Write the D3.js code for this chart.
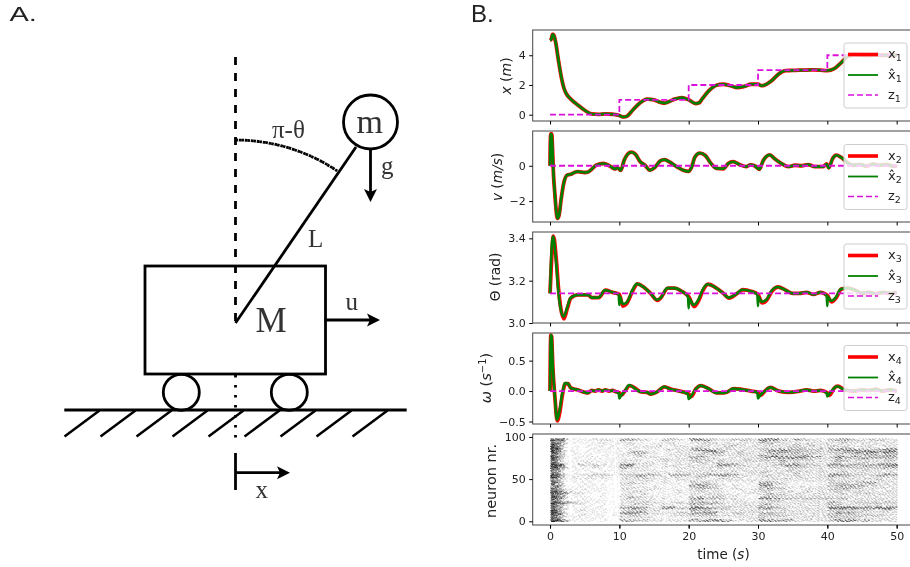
<!DOCTYPE html>
<html>
<head>
<meta charset="utf-8">
<script src="https://cdnjs.cloudflare.com/ajax/libs/d3/7.8.5/d3.min.js"></script>
<style>
  html, body { margin: 0; padding: 0; background: #fff; overflow: hidden; }
  svg { display: block; filter: blur(0.35px); }
  text { font-family: "DejaVu Sans", sans-serif; fill: #222; }
  .serif { font-family: "Liberation Serif", serif; fill: #333; }
  .domain { display: none; }
</style>
</head>
<body>
<svg id="fig" width="910" height="567"></svg>
<script>
var width = 910, height = 567;

// values
var t1 = [0,0.2,0.35,0.5,0.8,1.2,1.6,2,2.3,3,4,5,6,7,8,9,10,10.5,11,12,13,14,15,16,16.5,17,18,19,20,21,21.5,22,23,24,25,26,27,28,29,30,30.5,31,32,33,34,35,36,37,38,39,40,41,42,43,44,45,46,47,48,49,50];
var x1 = [5.0,5.1,5.4,5.4,4.9,3.7,2.6,1.8,1.45,1.05,0.65,0.3,0.05,0.02,0.06,0.03,-0.05,-0.15,-0.12,0.35,0.8,1.05,1.0,0.82,0.78,0.85,1.05,1.15,1.0,0.75,0.8,1.1,1.65,1.98,2.05,1.95,1.82,1.9,2.05,2.05,1.95,2.0,2.3,2.75,2.97,2.98,3.0,3.0,3.02,3.0,2.97,3.1,3.5,3.95,4.05,4.0,4.0,4.02,4.0,4.0,4.0];
var xHat1 = x1;
var zT = [0,10,20,30,40,50];
var z1 = [0,1,2,3,4,4];

var t2 = [0,0.03,0.1,0.25,0.35,0.5,0.7,0.9,1.06,1.3,1.6,2,2.5,3,3.5,4,5,5.5,6,6.7,7.7,8.65,9.4,9.7,10.2,10.7,11.7,12.3,13,13.7,14.4,15.1,15.9,16.5,17.3,18.3,19.2,20,20.4,20.9,21.6,22.4,23.1,24,25,25.7,26.4,27.4,28.3,28.9,29.5,30.2,30.75,31.7,32.4,33.4,34.4,35.3,36.3,37.2,38.2,39.4,39.9,40.2,40.75,41.3,42,43,43.7,44.7,45.6,46.6,47.5,48.5,49.5,50];
var x2 = [0,1.0,1.8,1.8,1.0,-0.5,-1.6,-2.6,-2.98,-2.8,-1.9,-0.95,-0.52,-0.48,-0.38,-0.33,-0.38,-0.35,-0.2,0.05,0.13,-0.02,-0.18,-0.1,-0.26,0.32,0.77,0.66,0.23,0.03,-0.25,-0.1,0.28,0.35,0.2,-0.06,-0.25,-0.32,-0.1,0.5,0.72,0.58,0.19,-0.15,-0.17,0.13,0.23,0.05,-0.05,0.05,0,-0.2,0.3,0.62,0.4,0.12,-0.05,0.03,0,0.07,-0.05,-0.05,0.1,-0.12,0.4,0.6,0.47,0.15,0.03,0.07,-0.02,0.09,0.02,0.07,-0.02,0];
var xHat2 = x2;
var z2 = [0,0,0,0,0,0];

var t3 = [0,0.15,0.48,0.9,1.2,1.5,2,2.5,3,4,5.5,6,7,8,9,10,10.5,11,12,12.6,13.5,14.5,15.5,16,17,18,19,20,20.8,21.5,22,22.8,24,25,25.8,27,27.8,29,30,30.6,31.3,32,32.9,34,35,36,37,38,39,40,40.6,41.3,42,43,44,45,46,47,48,49,50];
var x3 = [3.14,3.25,3.41,3.3,3.17,3.08,3.02,3.07,3.118,3.133,3.133,3.12,3.12,3.155,3.145,3.135,3.08,3.09,3.157,3.185,3.17,3.14,3.107,3.12,3.165,3.165,3.15,3.125,3.078,3.11,3.15,3.183,3.165,3.14,3.118,3.14,3.157,3.15,3.135,3.095,3.11,3.15,3.17,3.155,3.14,3.14,3.145,3.135,3.145,3.13,3.1,3.12,3.16,3.165,3.155,3.14,3.145,3.138,3.145,3.14,3.145];
var tHat3 = [0,0.1,0.42,0.85,1.15,1.45,1.95,2.45,2.95,4,5.5,6,7,7.9,9,9.9,10,10.05,10.5,11,11.9,12.5,13.5,14.5,15.4,16,16.9,18,19,19.9,20,20.05,20.7,21.4,21.9,22.7,24,25,25.7,27,27.7,29,29.9,30,30.05,30.5,31.2,31.9,32.8,34,35,36,37,38,39,39.9,40,40.05,40.5,41.2,41.9,42.9,44,45,46,47,48,49,50];
var xHat3 = [3.14,3.25,3.41,3.3,3.17,3.08,3.03,3.07,3.118,3.133,3.133,3.12,3.12,3.155,3.145,3.135,3.085,3.125,3.09,3.095,3.157,3.185,3.17,3.14,3.11,3.12,3.165,3.165,3.15,3.125,3.07,3.115,3.085,3.11,3.15,3.183,3.165,3.14,3.12,3.14,3.157,3.15,3.135,3.08,3.125,3.1,3.11,3.15,3.17,3.155,3.14,3.14,3.145,3.135,3.145,3.13,3.08,3.125,3.105,3.12,3.16,3.165,3.155,3.14,3.145,3.138,3.145,3.14,3.145];
var z3 = [3.14,3.14,3.14,3.14,3.14,3.14];

var t4 = [0,0.05,0.12,0.22,0.4,0.7,1.05,1.4,1.8,2.2,2.6,3,4,5,5.5,6,6.5,7,7.5,8,8.5,9,9.5,10,10.3,10.8,11.5,12.5,13,14,14.5,15.5,16.5,17.5,19,20,20.4,21,21.8,23,24,25,25.5,26.5,27.5,28,29,30,30.4,31,31.8,33,34.5,36,37,38,39,40,40.3,41,41.5,42.5,44,45,46,47,48,49,50];
var x4 = [0,0.6,0.92,0.9,0.4,-0.1,-0.49,-0.35,-0.05,0.12,0.12,0.05,0.02,-0.02,-0.03,0.01,0.0,0.02,0.0,0.02,0.0,0.01,-0.01,-0.03,-0.07,0,0.09,0.03,-0.01,-0.02,-0.05,-0.01,0.07,0.03,-0.01,-0.05,-0.09,0.03,0.09,0.03,-0.03,-0.03,-0.02,0.04,0.03,0.02,0,-0.02,-0.07,0,0.06,0,-0.02,0,0.02,0,0.01,-0.03,-0.07,0.05,0.08,0.02,0,0.02,0.01,0.03,0,0.02,0];
var tHat4 = [0,0.05,0.12,0.22,0.4,0.7,1.0,1.35,1.75,2.15,2.6,3,4,5,5.5,6,6.5,7,7.5,8,8.5,9,9.5,9.9,10,10.2,10.8,11.4,12.4,13,14,14.5,15.5,16.4,17.4,19,19.9,20,20.3,21,21.7,23,24,25,25.5,26.4,27.4,28,29,29.9,30,30.3,31,31.7,33,34.5,36,37,38,39,39.9,40,40.2,41,41.4,42.5,44,45,46,47,48,49,50];
var xHat4 = [0,0.6,0.92,0.9,0.4,-0.1,-0.47,-0.33,-0.05,0.13,0.12,0.05,0.02,-0.02,-0.03,0.01,0.0,0.02,0.0,0.02,0.0,0.01,-0.01,-0.03,-0.12,-0.08,0,0.1,0.03,-0.01,-0.02,-0.05,-0.01,0.07,0.03,-0.01,-0.05,-0.13,-0.09,0.03,0.09,0.03,-0.03,-0.03,-0.02,0.04,0.03,0.02,0,-0.02,-0.12,-0.07,0,0.06,0,-0.02,0,0.02,0,0.01,-0.03,-0.09,-0.06,0.05,0.08,0.02,0,0.02,0.01,0.03,0,0.02,0];
var z4 = [0,0,0,0,0,0];

var ticks1 = [0,2,4], ticks2 = [-2,0], ticks3 = [3.0,3.2,3.4], ticks4 = [-0.5,0,0.5], ticks5 = [0,50,100];
var timeTicks = [0,10,20,30,40,50];

// spike raster as darkness per cell: top row is neurons 96-99, columns are
// 6 half-second bins (0-3 s), then 1 s bins for 3-9, 10-19, 20-29, 30-39, 40-49
var rasterNeuron = d3.range(97, -2, -3);
var rasterEdges = d3.range(0, 3, 0.5).concat(d3.range(3, 51));
var rasterRows = [
  "866730 1112221 4432113321 5543223332 5553243221 3443223322",
  "756420 1111211 2211112211 2232121222 4332221222 2232222122",
  "875310 0011111 1211121211 1222223212 2322232322 2222122222",
  "976310 1011111 1122221122 2321232222 2222333222 3232222122",
  "986310 1011111 1211112222 4554322222 3445443332 4555443455",
  "975310 1011111 1344211122 2245422322 2444443332 3344556465",
  "764310 1110111 2232111222 2323322322 4343334322 2323344344",
  "975310 1111011 1122221122 4432112222 3555555442 3544444444",
  "864200 1111111 2221123222 3332322232 3334333322 2432332233",
  "663210 1121111 2122212121 2322322222 2223232222 2322232232",
  "998620 1323211 5622212222 2222554322 2234553332 5544444556",
  "885530 1112111 4322112122 2222322222 2222333222 3333333344",
  "765300 1110111 2122211121 2222222222 2222322222 2222232222",
  "654200 1011101 1211122122 2222122122 3222232222 2232222222",
  "986411 1223321 3344431444 2344554222 2322232222 5543323454",
  "875310 2121210 2233212121 2321222211 2222222222 3232222222",
  "654210 1111110 2222212122 2222222222 2222222222 3222222322",
  "764300 1110000 2322112111 3232111111 4432111111 3332344222",
  "755310 0111100 2211111111 4543212111 5522111112 3444433222",
  "664210 1111100 2222121111 3443212111 3433212222 2344322222",
  "775421 1111100 2222211121 2322211212 3322212222 3332222122",
  "886553 2210100 1222111121 2222211122 2322222222 2322332222",
  "765420 1100100 2212111111 2222322111 2333222222 2222222222",
  "886530 1110100 2432212111 4534322111 5543333333 3332222222",
  "755210 1111100 2222211111 3322212211 2332222222 2222222222",
  "987654 3211100 2233222232 4444322222 3322222222 4322333333",
  "764310 1110100 2222212211 3322222222 3322212222 3322222222",
  "765320 1111101 4554225533 6654332222 5543222222 6666555665",
  "875310 1211100 2333221111 4332222222 2222222222 3333232232",
  "986420 1111101 5554222233 4455223322 4433222222 3544322222",
  "765321 1211101 2332111222 3333222222 3333222222 3333333322",
  "875310 1111100 2222211111 2222111222 3222222222 3333222222",
  "987642 1110100 4433221222 4455542222 5544422222 3555342222"
];

const svg = d3.select('#fig');

svg.append("defs").append("filter")
    .attr("id", "soft")
    .append("feGaussianBlur").attr("stdDeviation", 0.55);

// shared time scale
var axL = 532.7, axR = 914;
var x = d3.scaleLinear().domain([-2.5, 52.5]).range([axL, axR]);

var panels = [
  { top: 30,  bottom: 121, dom: [-0.424, 5.70], ticks: ticks1, fmt: d3.format("d"),
    tx: t1, x: x1, th: t1, xh: xHat1, z: z1, n: "1", zy: 43 },
  { top: 131, bottom: 222, dom: [-3.186, 1.97], ticks: ticks2, fmt: d3.format("d"),
    tx: t2, x: x2, th: t2, xh: xHat2, z: z2, n: "2", zy: 144.5 },
  { top: 232, bottom: 323, dom: [3.0, 3.43], ticks: ticks3, fmt: d3.format(".1f"),
    tx: t3, x: x3, th: tHat3, xh: xHat3, z: z3, n: "3", zy: 244 },
  { top: 333, bottom: 424, dom: [-0.541, 0.954], ticks: ticks4, fmt: d3.format(".1f"),
    tx: t4, x: x4, th: tHat4, xh: xHat4, z: z4, n: "4", zy: 345.5 }
];

panels.forEach(function(p, i){
    var g = svg.append("g");
    var y = d3.scaleLinear().domain(p.dom).range([p.bottom, p.top]);

    var clipId = "clip" + i;
    svg.select("defs").append("clipPath").attr("id", clipId)
        .append("rect").attr("x", axL).attr("y", p.top)
        .attr("width", axR - axL).attr("height", p.bottom - p.top);

    var plot = g.append("g").attr("clip-path", "url(#" + clipId + ")");

    var smooth = d3.line().curve(d3.curveMonotoneX);
    plot.append("path")
        .attr("d", smooth(p.tx.map((d, j) => [x(d), y(p.x[j])])))
        .attr("fill", "none").attr("stroke", "#f00").attr("stroke-width", 3.8);
    plot.append("path")
        .attr("d", smooth(p.th.map((d, j) => [x(d), y(p.xh[j])])))
        .attr("fill", "none").attr("stroke", "#008000").attr("stroke-width", 2.6);

    var stepped = d3.line().curve(d3.curveStepAfter);
    plot.append("path")
        .attr("d", stepped(zT.map((d, j) => [x(d), y(p.z[j])])))
        .attr("fill", "none").attr("stroke", "#dc10dc").attr("stroke-width", 1.8)
        .attr("stroke-dasharray", "6,3");

    drawAxes(g, p, y);
    drawLegend(g, p);
});

function drawAxes(g, p, y){
    g.append("rect")
        .attr("x", axL).attr("y", p.top)
        .attr("width", axR - axL).attr("height", p.bottom - p.top)
        .attr("fill", "none").attr("stroke", "#444").attr("stroke-width", 1);

    var ay = g.append("g")
        .attr("transform", "translate(" + axL + ",0)")
        .call(d3.axisLeft(y).tickValues(p.ticks).tickSize(3.5).tickPadding(3.5)
            .tickFormat(d => p.fmt(d).replace("-", "\u2212")));
    ay.selectAll("text").style("font-size", "11px");

    g.append("g")
        .attr("transform", "translate(0," + p.bottom + ")")
        .call(d3.axisBottom(x).tickValues(timeTicks).tickSize(3.5).tickFormat(""));
}

function drawLegend(g, p){
    var lx = 844, ly = p.zy;
    g.append("rect")
        .attr("x", lx).attr("y", ly).attr("width", 63).attr("height", 65).attr("rx", 2.5)
        .attr("fill", "#fff").attr("fill-opacity", 0.8)
        .attr("stroke", "#ccc").attr("stroke-width", 1);

    var rows = [
      { dy: 11.5, c: "#f00", w: 3.6, dash: null, label: "x" },
      { dy: 32, c: "#008000", w: 1.8, dash: null, label: "x\u0302" },
      { dy: 52, c: "#dc10dc", w: 1.7, dash: "6,3", label: "z" }
    ];
    rows.forEach(function(r){
        g.append("line")
            .attr("x1", lx + 4).attr("x2", lx + 34)
            .attr("y1", ly + r.dy).attr("y2", ly + r.dy)
            .attr("stroke", r.c).attr("stroke-width", r.w)
            .attr("stroke-dasharray", r.dash);
        var t = g.append("text").attr("x", lx + 44).attr("y", ly + r.dy + 3.5)
            .style("font-size", "13px");
        t.append("tspan").text(r.label);
        t.append("tspan").attr("dy", 3).style("font-size", "9.5px").text(p.n);
    });
}

// raster panel: each cell's darkness sets how many spike marks it holds,
// spread over the cell on fixed golden-ratio steps and snapped to neuron rows
var rTop = 434, rBottom = 525;
var yR = d3.scaleLinear().domain([-4.4, 103.5]).range([rBottom, rTop]);
var rasterG = svg.append("g");
var cells = rasterG.append("g").attr("filter", "url(#soft)").attr("fill", "#000");

rasterRows.forEach(function(row, r){
    row.replace(/ /g, "").split("").map(Number).forEach(function(d, c){
        var t0 = rasterEdges[c], t1End = rasterEdges[c + 1];
        var count = Math.round((d + 1) * 2 * (t1End - t0));
        d3.range(count).forEach(function(k){
            var ft = (k * 0.618 + r * c * 0.137 + r * 0.37 + c * 0.73) % 1;
            var fn = (k * 0.7549 + r * c * 0.091 + c * 0.41 + r * 0.29) % 1;
            var n = rasterNeuron[r] - 1 + Math.floor(fn * 3);
            cells.append("rect")
                .attr("x", x(t0 + ft * (t1End - t0)))
                .attr("y", yR(n + 0.5))
                .attr("width", 1.5)
                .attr("height", 1.1)
                .attr("fill-opacity", 0.07 + d * 0.06);
        });
    });
});

drawAxes(rasterG, { top: rTop, bottom: rBottom, ticks: ticks5, fmt: d3.format("d") }, yR);
rasterG.selectAll("text").style("font-size", "11px");

svg.append("g")
    .attr("transform", "translate(0," + rBottom + ")")
    .call(d3.axisBottom(x).tickValues(timeTicks).tickSize(3.5).tickPadding(3.5))
    .selectAll("text").style("font-size", "11px");

// axis titles
function yTitle(px, py, size, parts){
    var t = svg.append("text")
        .attr("transform", "translate(" + px + "," + py + ") rotate(-90)")
        .attr("text-anchor", "middle")
        .style("font-size", size + "px");
    parts.forEach(function(s){
        var sp = t.append("tspan").text(s.t);
        if (s.i) sp.style("font-style", "italic");
        if (s.up) sp.attr("dy", s.up);
        if (s.small) sp.style("font-size", "10px");
    });
}
yTitle(510.5, 76, 14, [{t:"x",i:1},{t:" ("},{t:"m",i:1},{t:")"}]);
yTitle(501.5, 177, 13.7, [{t:"v",i:1},{t:" ("},{t:"m/s",i:1},{t:")"}]);
yTitle(499.5, 277, 13.7, [{t:"\u0398 (rad)"}]);
yTitle(490.5, 378, 14.5, [{t:"\u03c9",i:1},{t:" ("},{t:"s",i:1},{t:"\u22121",up:-5,small:1},{t:")",up:5}]);
yTitle(495.5, 481, 14.5, [{t:"neuron nr."}]);

var tt = svg.append("text").attr("x", 723.5).attr("y", 559)
    .attr("text-anchor", "middle").style("font-size", "13.5px");
tt.append("tspan").text("time (");
tt.append("tspan").style("font-style", "italic").text("s");
tt.append("tspan").text(")");

// panel letters
svg.append("text").attr("transform", "translate(9.5,21) scale(1.45,1)")
    .style("font-family", "Liberation Sans").style("font-size", "20px").text("A.");
svg.append("text").attr("x", 471).attr("y", 22)
    .style("font-family", "Liberation Sans").style("font-size", "24px").text("B.");

// panel A: cart-pole drawing
var cart = svg.append("g").attr("fill", "none").attr("stroke", "#000").attr("stroke-width", 2.8);
var px = 235.5, py = 323;

function seg(x1, y1, x2, y2, w, dash){
    return cart.append("line")
        .attr("x1", x1).attr("y1", y1).attr("x2", x2).attr("y2", y2)
        .attr("stroke-width", w || 2.8)
        .attr("stroke-dasharray", dash || null);
}
function arrow(x1, y1, x2, y2){
    seg(x1, y1, x2 - (x2 - x1 ? Math.sign(x2 - x1) * 6 : 0), y2 - (y2 - y1 ? Math.sign(y2 - y1) * 6 : 0));
    var a = Math.atan2(y2 - y1, x2 - x1);
    cart.append("path")
        .attr("transform", "translate(" + x2 + "," + y2 + ") rotate(" + (a * 180 / Math.PI) + ")")
        .attr("d", "M0,0L-13,-6.5L-10,0L-13,6.5Z")
        .attr("fill", "#000").attr("stroke", "none");
}

seg(px, 57, px, 323, 2.8, "8,8");
seg(px, 375, px, 443, 2.8, "2.5,7.5");
seg(px, 453, px, 490, 2.8);
seg(px, 323, 356, 147, 2.8);

cart.append("rect").attr("x", 145).attr("y", 266).attr("width", 180.5).attr("height", 108);
cart.append("circle").attr("cx", 181.3).attr("cy", 392.3).attr("r", 18);
cart.append("circle").attr("cx", 289.3).attr("cy", 392.3).attr("r", 18);
cart.append("circle").attr("cx", 370.5).attr("cy", 122).attr("r", 27).attr("fill", "#fff");

seg(64.3, 410, 406.7, 410, 2.8);
d3.range(9).forEach(function(i){
    seg(64.5 + i * 36, 436.5, 99.5 + i * 36, 410.5, 2.5);
});

arrow(370.5, 150, 370.5, 202);
arrow(326, 320, 380, 320);
arrow(px, 472.7, 290, 472.7);

// angle arc around the pivot
var arc = d3.arc().innerRadius(183).outerRadius(183)
    .startAngle(0).endAngle(Math.atan2(338 - px, py - 170));
cart.append("path")
    .attr("transform", "translate(" + px + "," + py + ")")
    .attr("d", arc())
    .attr("stroke-width", 2.8).attr("stroke-dasharray", "2.5,3.5");

function serif(s, xx, yy, size){
    svg.append("text").attr("class", "serif").attr("x", xx).attr("y", yy)
        .style("font-size", size + "px").text(s);
}
serif("m", 356.5, 133, 34);
serif("\u03c0-\u03b8", 272, 138, 25);
serif("g", 381, 174, 25);
serif("L", 308, 247, 25);
serif("M", 255.5, 332, 35);
serif("u", 345.5, 310, 25);
serif("x", 255.5, 498, 25);
</script>
</body>
</html>
